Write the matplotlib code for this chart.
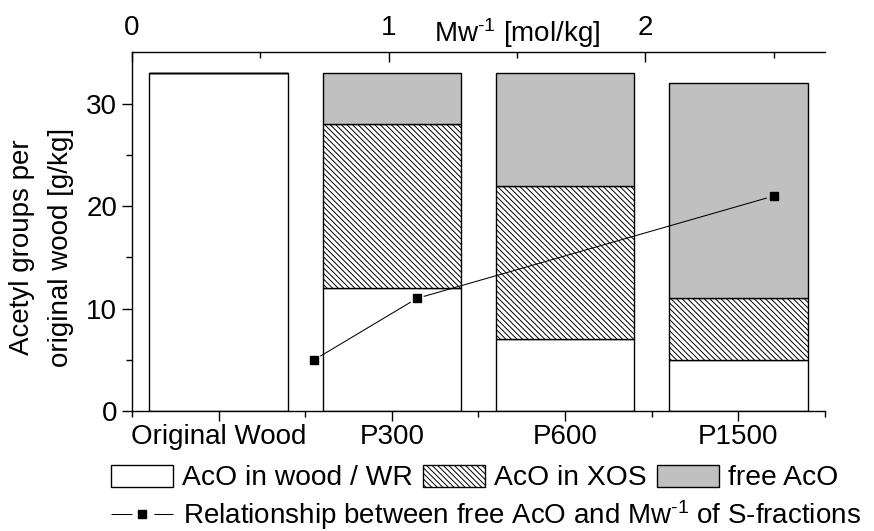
import numpy as np
import matplotlib
matplotlib.use("Agg")
import matplotlib.pyplot as plt
from matplotlib.patches import Patch
from matplotlib.lines import Line2D
from matplotlib.ticker import FixedLocator

plt.rcParams['font.family'] = ['Liberation Sans', 'DejaVu Sans']
plt.rcParams['font.size'] = 20
plt.rcParams['mathtext.fontset'] = 'custom'
plt.rcParams['mathtext.rm'] = 'Liberation Sans'
plt.rcParams['mathtext.it'] = 'Liberation Sans:italic'
plt.rcParams['hatch.linewidth'] = 0.7
plt.rcParams['lines.scale_dashes'] = False

# data
samples = ['Original Wood', 'P300', 'P600', 'P1500']
aco_wood = [33, 12, 7, 5]      # AcO in wood / WR
aco_xos = [0, 16, 15, 6]       # AcO in XOS
aco_free = [0, 5, 11, 21]      # free AcO
mw_inv = [0.71, 1.11, 2.5]     # Mw^-1 of S-fractions [mol/kg]
free_s = [5, 11, 21]

HATCH = '\\' * 6
W, H = 874, 531
fig = plt.figure(figsize=(W / 100, H / 100), dpi=100)
ax = fig.add_axes([132 / W, 1 - 411 / H, (825 - 132) / W, (411 - 51.7) / H])

x = np.arange(len(samples))
bw = 0.8
b1 = ax.bar(x, aco_wood, bw, color='white', edgecolor='k', linewidth=1.0)
b2 = ax.bar(x, aco_xos, bw, bottom=aco_wood, color='white', edgecolor='k',
            linewidth=1.0, hatch=HATCH)
bottom3 = np.array(aco_wood) + np.array(aco_xos)
b3 = ax.bar(x, aco_free, bw, bottom=bottom3, color='#c0c0c0', edgecolor='k',
            linewidth=1.0)

ax.set_xlim(-0.5, 3.5)
ax.set_ylim(0, 35.1)
ax.set_xticks(x)
ax.set_xticklabels(samples)
ax.xaxis.set_minor_locator(FixedLocator([-0.5, 0.5, 1.5, 2.5, 3.5]))
ax.set_yticks([0, 10, 20, 30])
ax.yaxis.set_minor_locator(FixedLocator([5, 15, 25]))
ax.tick_params(which='major', direction='out', length=7.2, width=1.0)
ax.tick_params(which='minor', direction='out', length=4, width=1.0)
ax.tick_params(axis='x', which='major', pad=2.5)
ax.spines['right'].set_visible(False)
ax.spines['top'].set_visible(False)
for s in ['left', 'bottom']:
    ax.spines[s].set_linewidth(1.0)

# top axis
ax2 = ax.twiny()
ax2.set_xlim(0, 2.7)
ax2.set_xticks([0, 1, 2])
ax2.xaxis.set_minor_locator(FixedLocator([0.5, 1.5, 2.5]))
ax2.tick_params(which='major', direction='in', length=7.2, width=1.0, pad=7.7)
ax2.tick_params(which='minor', direction='in', length=4, width=1.0)
for s in ['left', 'right', 'bottom']:
    ax2.spines[s].set_visible(False)
ax2.spines['top'].set_linewidth(1.0)
ax2.text(1.5, (411 - 42) / (411 - 51.7), 'Mw$^{\\text{-1}}$ [mol/kg]',
         ha='center', va='baseline', transform=ax2.get_xaxis_transform())

# line with gaps around the symbols
trans = ax2.transData
pts = trans.transform(np.column_stack([mw_inv, free_s]))
gap = 7.6
for p0, p1 in zip(pts[:-1], pts[1:]):
    d = p1 - p0
    u = d / np.hypot(*d)
    seg = trans.inverted().transform(np.array([p0 + u * gap, p1 - u * gap]))
    ax2.plot(seg[:, 0], seg[:, 1], color='k', lw=0.75)
ax2.plot(mw_inv, free_s, ls='none', marker='s', ms=6, color='k')

fig.text(42 / W, 1 - 247 / H, 'Acetyl groups per\noriginal wood [g/kg]',
         rotation=90, ha='center', va='center', multialignment='center',
         linespacing=1.65)

# legends
h1 = [Patch(facecolor='white', edgecolor='k', linewidth=1.0),
      Patch(facecolor='white', edgecolor='k', linewidth=1.0, hatch=HATCH),
      Patch(facecolor='#c0c0c0', edgecolor='k', linewidth=1.0)]
l1 = ['AcO in wood / WR', 'AcO in XOS', 'free AcO']
leg1 = fig.legend(h1, l1, ncol=3, loc='center left',
                  bbox_to_anchor=(111 / W, 1 - 478 / H), frameon=False,
                  borderpad=0, borderaxespad=0, handlelength=2.2,
                  handleheight=0.83, handletextpad=0.33, columnspacing=0.35,
                  prop={'size': 20.3})
h2 = [Line2D([], [], color='k', lw=0.75, dashes=(15.1, 15.8), marker='s',
             ms=6)]
leg2 = fig.legend(h2, ['Relationship between free AcO and Mw$^{\\text{-1}}$ of S-fractions'],
                  loc='center left', bbox_to_anchor=(111 / W, 1 - 515 / H),
                  frameon=False, borderpad=0, borderaxespad=0,
                  handlelength=2.24, handletextpad=0.36, numpoints=1)

fig.savefig('out.png', dpi=100)
